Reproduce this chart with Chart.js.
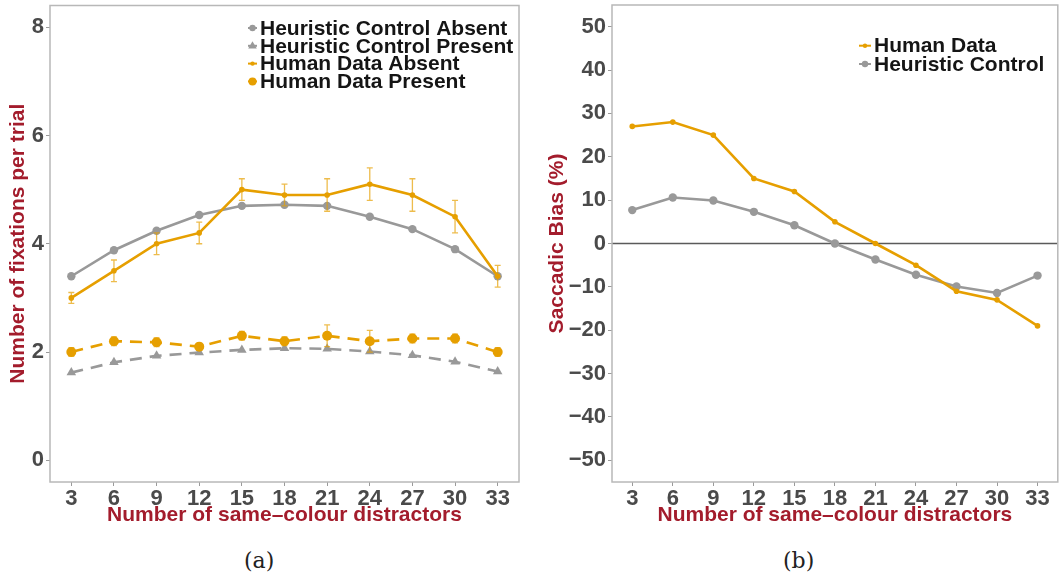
<!DOCTYPE html>
<html>
<head>
<meta charset="utf-8">
<script src="https://cdn.jsdelivr.net/npm/chart.js@4/dist/chart.umd.min.js"></script>
<style>
	html, body { margin: 0; padding: 0; background: #fff; }
	#wrap { position: relative; width: 1062px; height: 579px; overflow: hidden; }
	.panel { position: absolute; top: 0; width: 531px; height: 528px; }
	.caption { position: absolute; top: 548px; font: 22px "DejaVu Serif", "Liberation Serif", serif; color: #222; }
</style>
</head>
<body>
<div id="wrap">
	<div class="panel" style="left:0"><canvas id="fixationsChart" width="531" height="528"></canvas></div>
	<div class="panel" style="left:531px"><canvas id="biasChart" width="531" height="528"></canvas></div>
	<div class="caption" style="left:244px">(a)</div>
	<div class="caption" style="left:783px">(b)</div>
</div>
<script>
const distractors = [3, 6, 9, 12, 15, 18, 21, 24, 27, 30, 33];

// fixations per trial
const heuristicAbsent = [3.40, 3.88, 4.24, 4.53, 4.70, 4.72, 4.70, 4.50, 4.27, 3.90, 3.40];
const heuristicPresent = [1.62, 1.81, 1.93, 1.99, 2.04, 2.07, 2.06, 2.01, 1.94, 1.82, 1.64];
const humanAbsent = [3.0, 3.5, 4.0, 4.2, 5.0, 4.9, 4.9, 5.1, 4.9, 4.5, 3.4];
const humanAbsentErr = [0.1, 0.2, 0.2, 0.2, 0.2, 0.2, 0.3, 0.3, 0.3, 0.3, 0.2];
const humanPresent = [2.0, 2.2, 2.18, 2.1, 2.3, 2.2, 2.3, 2.2, 2.25, 2.25, 2.0];
const humanPresentErr = [0.08, 0.08, 0.08, 0.06, 0.08, 0.08, 0.2, 0.2, 0.08, 0.08, 0.08];
const fixationTicks = [0, 2, 4, 6, 8];

// saccadic bias (%)
const biasHuman = [27, 28, 25, 15, 12, 5, 0, -5, -11, -13, -19];
const biasHeuristic = [7.7, 10.6, 9.9, 7.3, 4.2, 0, -3.7, -7.2, -9.9, -11.4, -7.4];
const biasTicks = [-50, -40, -30, -20, -10, 0, 10, 20, 30, 40, 50];

const ORANGE = '#E69F00';
const GREY = '#999999';
const DARKRED = '#a31c2c';
const FONT = '"Liberation Sans", Arial, Helvetica, sans-serif';

function points(ys) {
	return ys.map((y, i) => ({ x: distractors[i], y: y }));
}

function drawMarker(ctx, style, x, y, r, color) {
	ctx.fillStyle = color;
	ctx.beginPath();
	if (style === 'triangle') {
		ctx.moveTo(x, y - r);
		ctx.lineTo(x + r * 0.95, y + r * 0.6);
		ctx.lineTo(x - r * 0.95, y + r * 0.6);
		ctx.closePath();
	} else {
		ctx.arc(x, y, r, 0, Math.PI * 2);
	}
	ctx.fill();
}

// box around the plotting area, plus optional reference line
const panelBox = {
	id: 'panelBox',
	beforeDatasetsDraw(chart, args, opts) {
		const { ctx, chartArea: a } = chart;
		ctx.save();
		if (opts.zeroLine) {
			const y0 = chart.scales.y.getPixelForValue(0);
			ctx.strokeStyle = '#5a5a5a';
			ctx.lineWidth = 1.6;
			ctx.beginPath();
			ctx.moveTo(a.left, y0);
			ctx.lineTo(a.right, y0);
			ctx.stroke();
		}
		ctx.strokeStyle = '#b8b8b8';
		ctx.lineWidth = 1.5;
		ctx.strokeRect(a.left, a.top, a.right - a.left, a.bottom - a.top);
		ctx.restore();
	}
};

// vertical error bars for datasets carrying an errorBars array
const errorBars = {
	id: 'errorBars',
	afterDatasetsDraw(chart) {
		const { ctx } = chart;
		const yScale = chart.scales.y;
		chart.data.datasets.forEach((ds, di) => {
			if (!ds.errorBars) return;
			const meta = chart.getDatasetMeta(di);
			ctx.save();
			ctx.strokeStyle = 'rgba(230,159,0,0.7)';
			ctx.lineWidth = 1.3;
			meta.data.forEach((pt, i) => {
				const v = ds.data[i].y, e = ds.errorBars[i];
				const yt = yScale.getPixelForValue(v + e);
				const yb = yScale.getPixelForValue(v - e);
				ctx.beginPath();
				ctx.moveTo(pt.x, yt); ctx.lineTo(pt.x, yb);
				ctx.moveTo(pt.x - 3, yt); ctx.lineTo(pt.x + 3, yt);
				ctx.moveTo(pt.x - 3, yb); ctx.lineTo(pt.x + 3, yb);
				ctx.stroke();
			});
			ctx.restore();
		});
	}
};

// legend drawn inside the plotting area
const innerLegend = {
	id: 'innerLegend',
	afterDraw(chart, args, opts) {
		const { ctx, chartArea: a } = chart;
		ctx.save();
		ctx.font = 'bold 21px ' + FONT;
		ctx.textBaseline = 'middle';
		chart.data.datasets.forEach((ds, i) => {
			const y = a.top + opts.top + i * opts.rowHeight;
			const x = a.left + opts.left;
			ctx.strokeStyle = ds.borderColor;
			ctx.lineWidth = 2;
			ctx.beginPath();
			ctx.moveTo(x - opts.keyWidth - 3, y);
			ctx.lineTo(x - 3, y);
			ctx.stroke();
			drawMarker(ctx, ds.pointStyle, x - 3 - opts.keyWidth / 2, y, Math.max(2.2, ds.pointRadius - 1), ds.borderColor);
			ctx.fillStyle = '#151515';
			ctx.fillText(ds.label, x, y + 1);
		});
		ctx.restore();
	}
};

function axes(yMin, yMax, yTicks, yTitle, yWidth, yTitlePad) {
	const tickFont = { family: FONT, size: 22, weight: 'bold' };
	const titleFont = { family: FONT, size: 21, weight: 'bold' };
	return {
		x: {
			type: 'linear',
			min: 1.5,
			max: 34.5,
			afterBuildTicks: (s) => { s.ticks = distractors.map(v => ({ value: v })); },
			afterFit: (s) => { s.height = 46; s.paddingLeft = 0; s.paddingRight = 0; },
			grid: { display: true, drawOnChartArea: false, tickLength: 4, color: '#9a9a9a' },
			border: { display: false },
			ticks: { font: tickFont, color: '#4a4a4a', padding: 0, maxRotation: 0 },
			title: { display: true, text: 'Number of same\u2013colour distractors', color: DARKRED, font: titleFont, padding: 0 },
		},
		y: {
			min: yMin,
			max: yMax,
			afterBuildTicks: (s) => { s.ticks = yTicks.map(v => ({ value: v })); },
			afterFit: (s) => { s.width = yWidth; s.paddingTop = 0; s.paddingBottom = 0; },
			grid: { display: true, drawOnChartArea: false, tickLength: 4, color: '#9a9a9a' },
			border: { display: false },
			ticks: {
				font: tickFont, color: '#4a4a4a', padding: 2,
				callback: (v) => (v < 0 ? '\u2212' + Math.abs(v) : String(v)),
			},
			title: { display: true, text: yTitle, color: DARKRED, font: titleFont, padding: { top: yTitlePad, bottom: 0 } },
		},
	};
}

const baseOptions = {
	responsive: false,
	animation: false,
	events: [],
	elements: { line: { tension: 0, borderWidth: 2.6 } },
};

new Chart(document.getElementById('fixationsChart'), {
	type: 'line',
	data: {
		datasets: [
			{
				label: 'Heuristic Control Absent',
				data: points(heuristicAbsent),
				borderColor: GREY, backgroundColor: GREY,
				pointStyle: 'circle', pointRadius: 4.2, pointBorderWidth: 0, order: 2,
			},
			{
				label: 'Heuristic Control Present',
				data: points(heuristicPresent),
				borderColor: GREY, backgroundColor: GREY, borderDash: [12, 8],
				pointStyle: 'triangle', pointRadius: 5.5, pointBorderWidth: 0, order: 2,
			},
			{
				label: 'Human Data Absent',
				data: points(humanAbsent), errorBars: humanAbsentErr,
				borderColor: ORANGE, backgroundColor: ORANGE,
				pointStyle: 'circle', pointRadius: 2.8, pointBorderWidth: 0, order: 1,
			},
			{
				label: 'Human Data Present',
				data: points(humanPresent), errorBars: humanPresentErr,
				borderColor: ORANGE, backgroundColor: ORANGE, borderDash: [12, 8],
				pointStyle: 'circle', pointRadius: 5, pointBorderWidth: 0, order: 1,
			},
		],
	},
	options: Object.assign({}, baseOptions, {
		layout: { padding: { top: 5, right: 12, left: 0, bottom: 0 } },
		scales: axes(-0.4, 8.4, fixationTicks, 'Number of fixations per trial', 50, 6),
		plugins: {
			legend: { display: false },
			tooltip: { enabled: false },
			panelBox: { zeroLine: false },
			innerLegend: { left: 210, top: 22.5, rowHeight: 17.8, keyWidth: 9 },
		},
	}),
	plugins: [panelBox, errorBars, innerLegend],
});

new Chart(document.getElementById('biasChart'), {
	type: 'line',
	data: {
		datasets: [
			{
				label: 'Human Data',
				data: points(biasHuman),
				borderColor: ORANGE, backgroundColor: ORANGE,
				pointStyle: 'circle', pointRadius: 2.8, pointBorderWidth: 0, order: 1,
			},
			{
				label: 'Heuristic Control',
				data: points(biasHeuristic),
				borderColor: GREY, backgroundColor: GREY,
				pointStyle: 'circle', pointRadius: 4.2, pointBorderWidth: 0, order: 2,
			},
		],
	},
	options: Object.assign({}, baseOptions, {
		layout: { padding: { top: 5, right: 2, left: 0, bottom: 0 } },
		scales: axes(-55, 55, biasTicks, 'Saccadic Bias (%)', 81, 14),
		plugins: {
			legend: { display: false },
			tooltip: { enabled: false },
			panelBox: { zeroLine: true },
			innerLegend: { left: 262, top: 40.7, rowHeight: 18.3, keyWidth: 12 },
		},
	}),
	plugins: [panelBox, errorBars, innerLegend],
});
</script>
</body>
</html>
